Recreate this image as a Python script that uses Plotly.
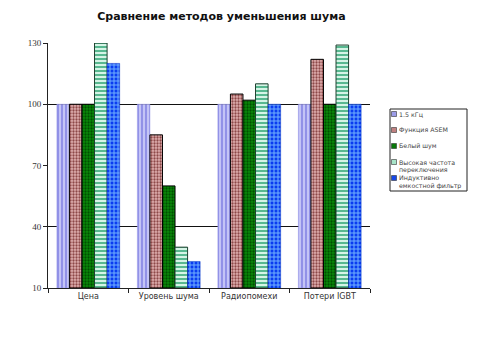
import plotly.graph_objects as go

categories = ["Цена", "Уровень шума", "Радиопомехи", "Потери IGBT"]
series_names = [
    ["1.5 кГц"],
    ["Функция ASEM"],
    ["Белый шум"],
    ["Высокая частота", "переключения"],
    ["Индуктивно", "емкостной фильтр"],
]
series_values = [
    [100, 100, 100, 100],
    [100, 85, 105, 122],
    [100, 60, 102, 100],
    [130, 30, 110, 129],
    [120, 23, 100, 100],
]
y_ticks = [10, 40, 70, 100, 130]
grid_values = [40, 100]

styles = [
    dict(shape="|", bg="#c4c4f6", fg="#8c8ce6", size=4, line="#9a9ae8", lw=0.5, key="#9c9ce8"),
    dict(shape=".", bg="#e0b0b0", fg="#8c4848", size=3, line="#000000", lw=1, key="#c08080"),
    dict(shape=".", bg="#0a8a0a", fg="#005000", size=3, line="#000000", lw=1, key="#087808"),
    dict(shape="-", bg="#58b890", fg="#e4fbf0", size=4, line="#204030", lw=1, key="#a8e4c8"),
    dict(shape="+", bg="#0a3cf0", fg="#70b0ff", size=4, line="#0030c0", lw=0.5, key="#1848e8"),
]

W, H = 492, 348
L, R, T, B = 48, 122, 43, 60
PW, PH = W - L - R, H - T - B


def px_x(x):
    return (x - L) / PW


def px_y(y):
    return (H - B - y) / PH


fig = go.Figure()
for lines, vals, st in zip(series_names, series_values, styles):
    name = " ".join(lines)
    fig.add_trace(go.Bar(
        x=categories, y=[v - 10 for v in vals], base=10, name=name,
        showlegend=False,
        marker=dict(
            color=st["bg"],
            line=dict(color=st["line"], width=st["lw"]),
            pattern=dict(shape=st["shape"], bgcolor=st["bg"], fgcolor=st["fg"],
                         size=st["size"], solidity=0.45, fillmode="replace"),
        ),
        customdata=vals,
        hovertemplate="%{x}: %{customdata}<extra>" + name + "</extra>",
    ))

# horizontal reference lines drawn as a separate overlaid axis grid
fig.add_trace(go.Scatter(x=[None], y=[None], yaxis="y2", showlegend=False))

# compact legend: box, small colour keys and labels
shapes = [dict(type="rect", xref="paper", yref="paper",
               x0=px_x(390), x1=px_x(467), y0=px_y(191), y1=px_y(109),
               line=dict(color="#222", width=1), fillcolor="white")]
annotations = []
key_rows = [114, 130, 146, 162, 178]
text_rows = [[114], [130], [146], [162, 170], [178, 186]]
for lines, st, ky, tys in zip(series_names, styles, key_rows, text_rows):
    shapes.append(dict(type="rect", xref="paper", yref="paper",
                       x0=px_x(391.5), x1=px_x(396.5),
                       y0=px_y(ky + 2.5), y1=px_y(ky - 2.5),
                       line=dict(color="#333", width=0.6), fillcolor=st["key"]))
    for line, ty in zip(lines, tys):
        annotations.append(dict(xref="paper", yref="paper", x=px_x(398), y=px_y(ty),
                                xanchor="left", yanchor="middle", showarrow=False,
                                borderpad=0,
                                text=line, font=dict(family="DejaVu Sans", size=6.3, color="#444")))

fig.update_layout(
    width=W, height=H,
    margin=dict(l=L, r=R, t=T, b=B, autoexpand=False),
    paper_bgcolor="white", plot_bgcolor="white",
    barmode="group", bargap=0.22, bargroupgap=0.0,
    showlegend=False,
    title=dict(text="<b>Сравнение методов уменьшения шума</b>",
               x=0.45, xanchor="center", y=0.955, yanchor="middle",
               font=dict(family="DejaVu Sans", size=11, color="#111")),
    font=dict(family="DejaVu Sans", size=8, color="#222"),
    xaxis=dict(showline=True, linecolor="#222", linewidth=1,
               ticks="outside", ticklen=4, tickcolor="#222",
               tickson="boundaries", showgrid=False,
               tickfont=dict(family="DejaVu Sans", size=8, color="#333")),
    yaxis=dict(range=[10, 130], tickvals=y_ticks, showgrid=False,
               showline=True, linecolor="#222", linewidth=1,
               ticks="outside", ticklen=4, tickcolor="#222", zeroline=False,
               tickfont=dict(family="Liberation Serif", size=9, color="#333")),
    yaxis2=dict(range=[10, 130], overlaying="y", tickvals=grid_values,
                showgrid=True, gridcolor="#111", gridwidth=1,
                showticklabels=False, zeroline=False, layer="below traces"),
    shapes=shapes,
    annotations=annotations,
)

fig.write_html("out.html")
